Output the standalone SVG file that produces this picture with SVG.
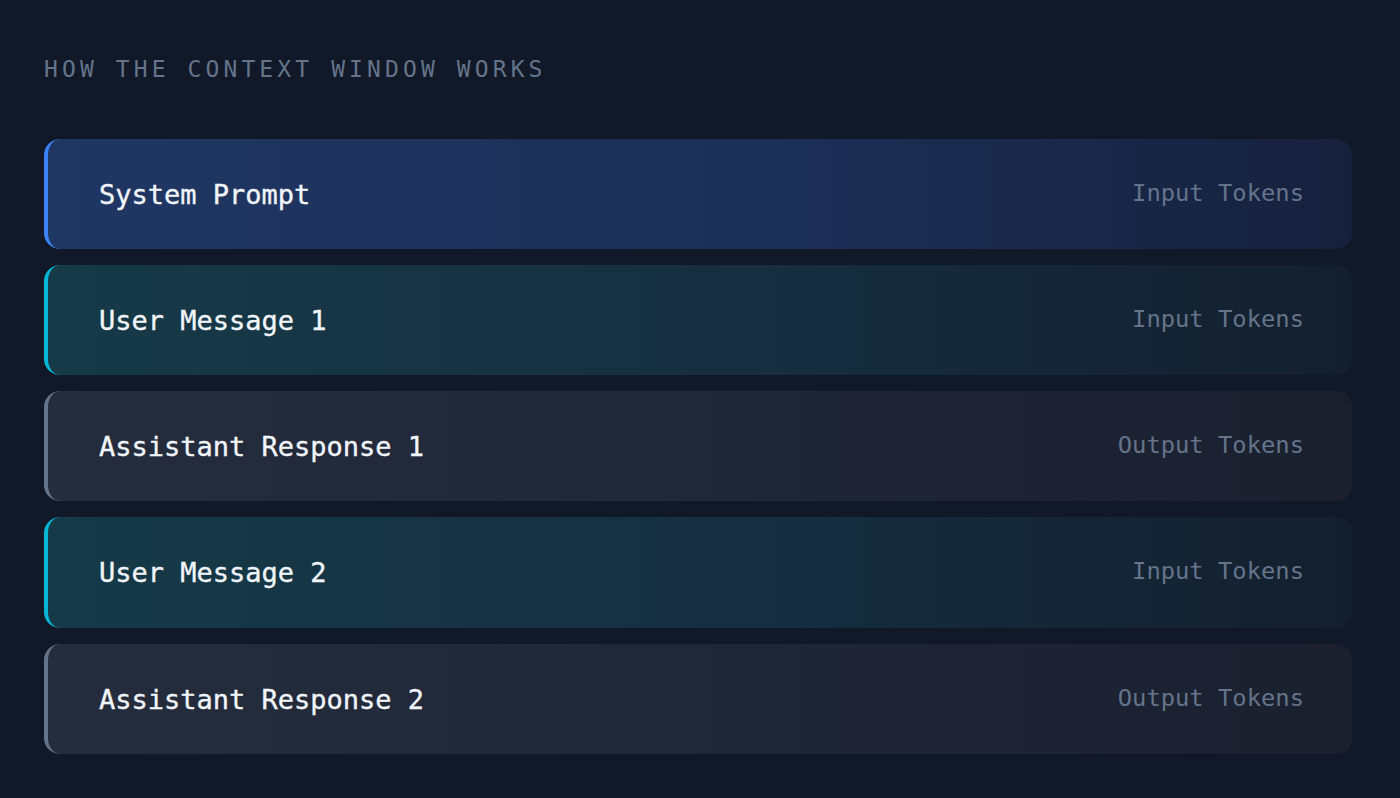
<svg xmlns="http://www.w3.org/2000/svg" width="1400" height="798" viewBox="0 0 1400 798">
<defs>
<style>
.title{font-family:"DejaVu Sans Mono","Liberation Mono",monospace;font-size:23px;letter-spacing:4.1px;fill:#64748b}
.lbl{font-family:"DejaVu Sans Mono","Liberation Mono",monospace;font-size:27px;fill:#f1f5f9;stroke:#f1f5f9;stroke-width:0.35px}
.tok{font-family:"DejaVu Sans Mono","Liberation Mono",monospace;font-size:23.8px;fill:#64748b;text-anchor:end}
</style>
<linearGradient id="gBlue" x1="0" y1="0" x2="1" y2="0">
<stop offset="0" stop-color="#1f3763"/><stop offset="0.55" stop-color="#1c2f57"/><stop offset="1" stop-color="#16213d"/>
</linearGradient>
<linearGradient id="gCyan" x1="0" y1="0" x2="1" y2="0">
<stop offset="0" stop-color="#163a48"/><stop offset="0.55" stop-color="#152e40"/><stop offset="1" stop-color="#141f2d"/>
</linearGradient>
<linearGradient id="gGray" x1="0" y1="0" x2="1" y2="0">
<stop offset="0" stop-color="#252c3c"/><stop offset="0.55" stop-color="#1f2637"/><stop offset="1" stop-color="#1a202e"/>
</linearGradient>
<clipPath id="c1"><rect x="44" y="139" width="1308" height="110" rx="16"/></clipPath>
<clipPath id="c2"><rect x="44" y="265" width="1308" height="110" rx="16"/></clipPath>
<clipPath id="c3"><rect x="44" y="391" width="1308" height="110" rx="16"/></clipPath>
<clipPath id="c4"><rect x="44" y="517" width="1308" height="111" rx="16"/></clipPath>
<clipPath id="c5"><rect x="44" y="644" width="1308" height="110" rx="16"/></clipPath>
</defs>
<rect width="1400" height="798" fill="#111827"/>
<text class="title" x="44" y="77">HOW THE CONTEXT WINDOW WORKS</text>

<g id="system-prompt">
<g clip-path="url(#c1)"><rect x="44" y="139" width="20" height="110" fill="#3b82f6"/></g>
<path d="M60 139H1336A16 16 0 0 1 1352 155V233A16 16 0 0 1 1336 249H60A12 16 0 0 1 48 233V155A12 16 0 0 1 60 139Z" fill="url(#gBlue)"/>
<text class="lbl" x="99" y="204">System Prompt</text>
<text class="tok" x="1304" y="201">Input Tokens</text>
</g>

<g id="user-message-1">
<g clip-path="url(#c2)"><rect x="44" y="265" width="20" height="110" fill="#06b6d4"/></g>
<path d="M60 265H1336A16 16 0 0 1 1352 281V359A16 16 0 0 1 1336 375H60A12 16 0 0 1 48 359V281A12 16 0 0 1 60 265Z" fill="url(#gCyan)"/>
<text class="lbl" x="99" y="330">User Message 1</text>
<text class="tok" x="1304" y="327">Input Tokens</text>
</g>

<g id="assistant-response-1">
<g clip-path="url(#c3)"><rect x="44" y="391" width="20" height="110" fill="#64748b"/></g>
<path d="M60 391H1336A16 16 0 0 1 1352 407V485A16 16 0 0 1 1336 501H60A12 16 0 0 1 48 485V407A12 16 0 0 1 60 391Z" fill="url(#gGray)"/>
<text class="lbl" x="99" y="456">Assistant Response 1</text>
<text class="tok" x="1304" y="453">Output Tokens</text>
</g>

<g id="user-message-2">
<g clip-path="url(#c4)"><rect x="44" y="517" width="20" height="111" fill="#06b6d4"/></g>
<path d="M60 517H1336A16 16 0 0 1 1352 533V612A16 16 0 0 1 1336 628H60A12 16 0 0 1 48 612V533A12 16 0 0 1 60 517Z" fill="url(#gCyan)"/>
<text class="lbl" x="99" y="582">User Message 2</text>
<text class="tok" x="1304" y="579">Input Tokens</text>
</g>

<g id="assistant-response-2">
<g clip-path="url(#c5)"><rect x="44" y="644" width="20" height="110" fill="#64748b"/></g>
<path d="M60 644H1336A16 16 0 0 1 1352 660V738A16 16 0 0 1 1336 754H60A12 16 0 0 1 48 738V660A12 16 0 0 1 60 644Z" fill="url(#gGray)"/>
<text class="lbl" x="99" y="709">Assistant Response 2</text>
<text class="tok" x="1304" y="706">Output Tokens</text>
</g>

<g id="connectors"/>
</svg>
